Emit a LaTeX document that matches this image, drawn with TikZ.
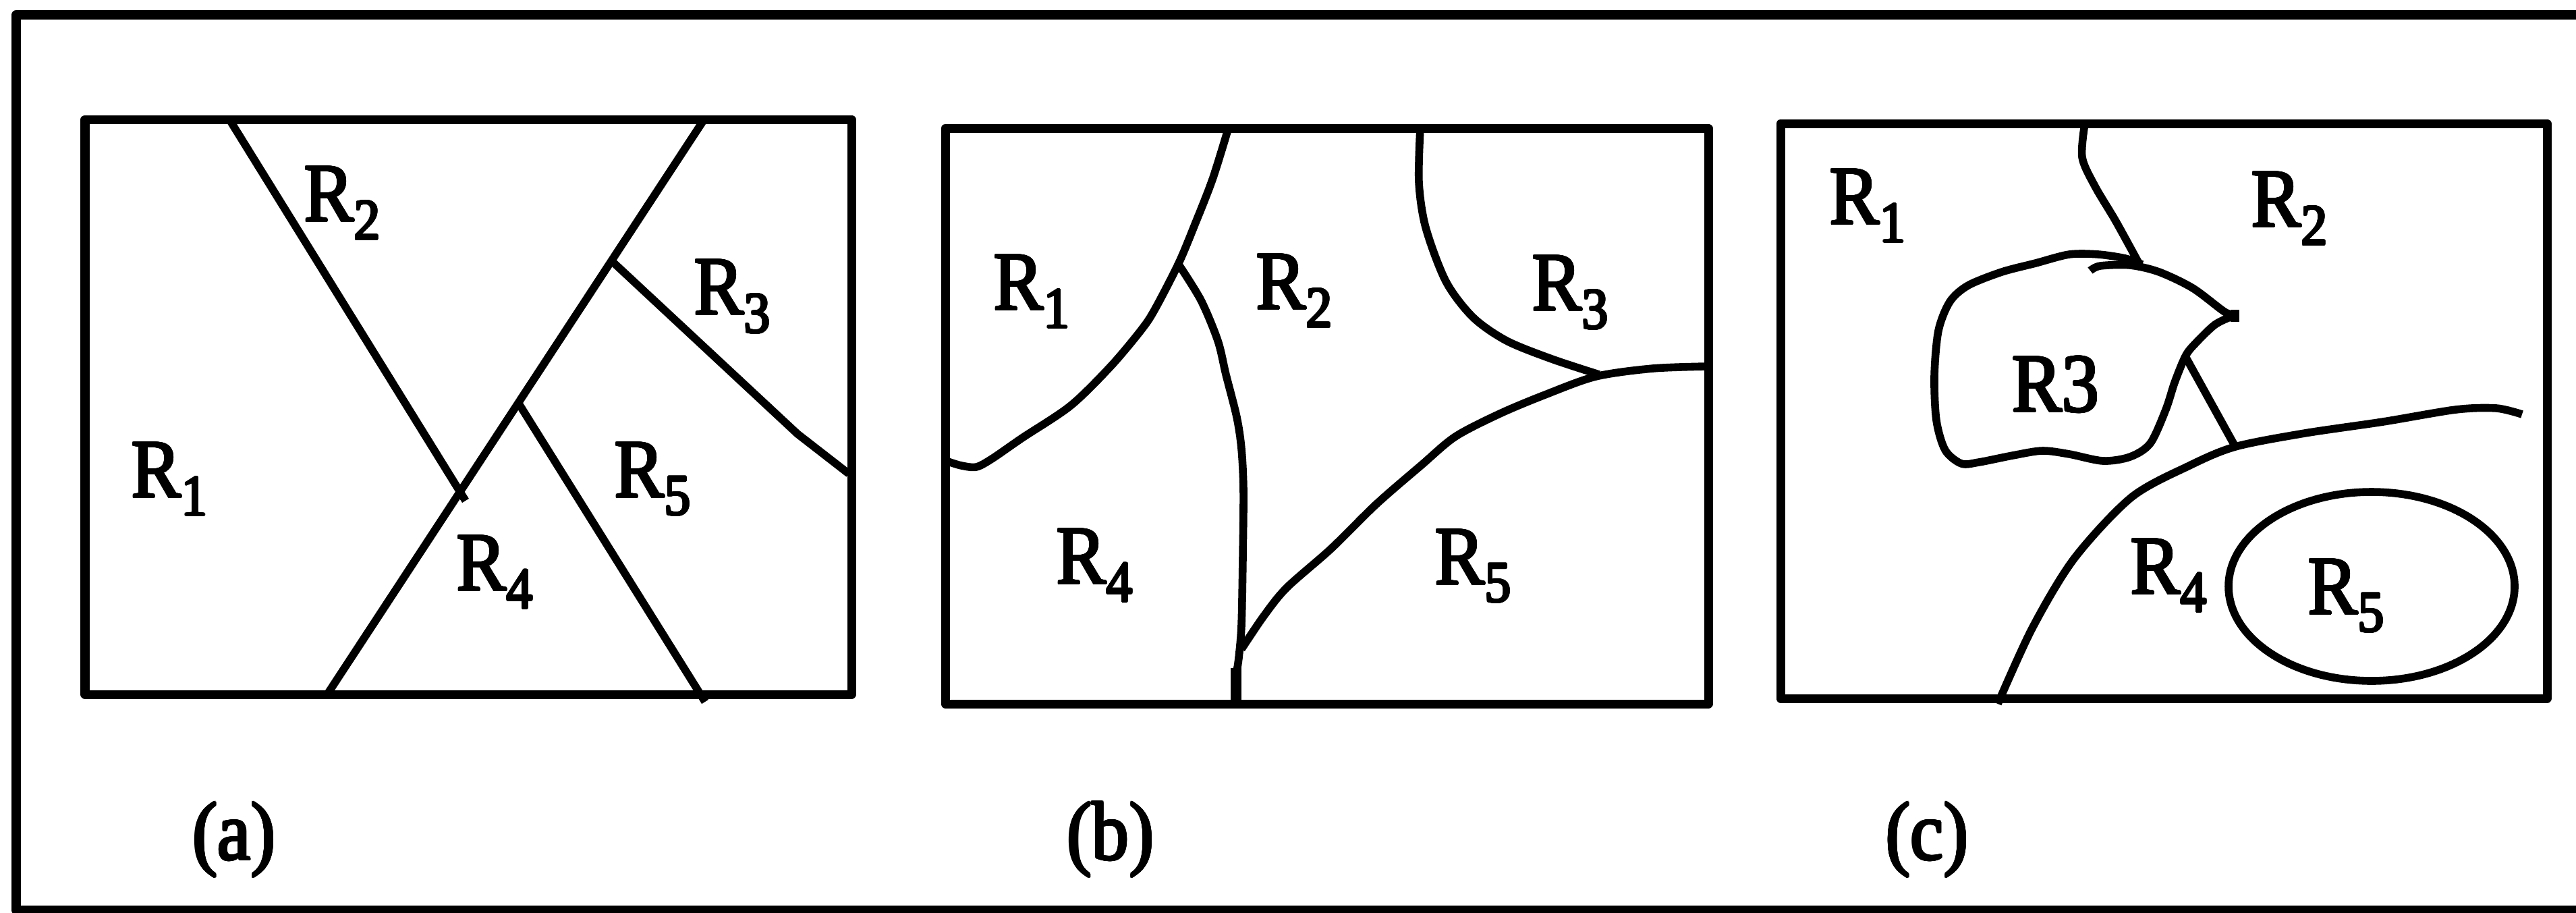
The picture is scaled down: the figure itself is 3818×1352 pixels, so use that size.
\documentclass[tikz,border=0pt]{standalone}
\usepackage{fontspec}
\usepackage[copies]{contour}
\contourlength{0.45pt}
\contournumber{16}
\newfontfamily\lblf{Liberation Serif}[FakeStretch=0.9]
\newcommand{\lt}[1]{\contour{black}{#1}}
\begin{document}
\begin{tikzpicture}[x=0.1mm,y=-0.1mm,line join=round,
  frame/.style={line width=3.9pt},
  box/.style={line width=3.7pt},
  bnd/.style={line width=3.3pt},
  lbl/.style={font=\lblf\fontsize{35}{42}\selectfont,inner sep=0pt,anchor=base}]
\useasboundingbox (0,0) rectangle (3818,1352);
\clip (0,0) rectangle (3818,1352);
% outer frame (open on the right)
\draw[frame] (3840,22) -- (24,22) -- (24,1349) -- (3840,1349);

% ---------- panel (a) ----------
\draw[box] (126,177) rectangle (1262,1029);
\coordinate (a1) at (340,177);
\coordinate (a2) at (690,742);
\coordinate (a3) at (1041,181);
\coordinate (a4) at (485,1029);
\coordinate (a5) at (908,388);
\coordinate (a6) at (1182,643);
\coordinate (a7) at (1258,702);
\coordinate (a8) at (767,595);
\coordinate (a9) at (1045,1040);
\draw[bnd] (a1) -- (a2);
\draw[bnd] (a3) -- (a4);
\draw[bnd] (a5) -- (a6) -- (a7);
\draw[bnd] (a8) -- (a9);
\node[lbl] (aR1) at (252,737) {\lt{R\textsubscript{1}}};
\node[lbl] (aR2) at (508,328) {\lt{R\textsubscript{2}}};
\node[lbl] (aR3) at (1086,466) {\lt{R\textsubscript{3}}};
\node[lbl] (aR4) at (734,875) {\lt{R\textsubscript{4}}};
\node[lbl] (aR5) at (968,737) {\lt{R\textsubscript{5}}};
\node[lbl] (acap) at (347,1274) {\lt{(a)}};

% ---------- panel (b) ----------
\draw[box] (1401,190) rectangle (2532,1043);
\draw[bnd] plot[smooth] coordinates {(1820,192) (1797,266) (1770,335) (1747,390) (1713,456) (1693,487) (1647,542) (1587,601) (1515,649) (1470,680) (1447,692) (1425,690) (1405,684)};
\draw[bnd] plot[smooth] coordinates {(1747,392) (1780,445) (1805,505) (1817,555) (1833,618) (1840,665) (1843,727) (1842,827) (1840,927) (1836,975) (1832,1005) (1832,1043)};
\draw[line width=4.4pt] (1832,990) -- (1832,1043);
\draw[bnd] plot[smooth] coordinates {(1840,962) (1873,913) (1907,871) (1973,813) (2040,747) (2107,689) (2157,647) (2223,613) (2290,585) (2365,558) (2450,546) (2532,543)};
\draw[bnd] plot[smooth] coordinates {(2105,190) (2103,270) (2113,337) (2143,417) (2183,470) (2233,505) (2300,532) (2370,555)};
\node[lbl] (bR1) at (1530,459) {\lt{R\textsubscript{1}}};
\node[lbl] (bR2) at (1919,458) {\lt{R\textsubscript{2}}};
\node[lbl] (bR3) at (2328,460) {\lt{R\textsubscript{3}}};
\node[lbl] (bR4) at (1623,865) {\lt{R\textsubscript{4}}};
\node[lbl] (bR5) at (2184,866) {\lt{R\textsubscript{5}}};
\node[lbl] (bcap) at (1646,1274) {\lt{(b)}};

% ---------- panel (c) ----------
\draw[box] (2639,183) rectangle (3775,1035);
\draw[bnd] plot[smooth] coordinates {(3090,183) (3086,233) (3105,276) (3136,328) (3170,390)};
\draw[bnd] plot[smooth] coordinates {(3098,401) (3113,394) (3157,393) (3200,403) (3250,427) (3297,462) (3313,467)};
\draw[bnd] plot[smooth] coordinates {(3313,467) (3283,481) (3250,513) (3238,530) (3223,567) (3210,607) (3187,657) (3157,677) (3117,683) (3067,673) (3027,668) (2983,675) (2933,685) (2907,687) (2883,667) (2870,623) (2867,557) (2873,490) (2890,447) (2917,423) (2967,403) (3017,390) (3067,377) (3110,377) (3150,383) (3175,392)};
\fill (3306,459) rectangle (3319,477);
\coordinate (c1) at (3240,530);
\coordinate (c2) at (3313,662);
\draw[bnd] (c1) -- (c2);
\draw[bnd] plot[smooth] coordinates {(2961,1043) (3012,931) (3074,828) (3159,737) (3245,690) (3313,662) (3416,642) (3532,625) (3640,607) (3700,605) (3738,614)};
\draw[bnd] (3515,869) ellipse [x radius=21.2mm, y radius=14mm];
\node[lbl] (cR1) at (2769,332) {\lt{R\textsubscript{1}}};
\node[lbl] (cR2) at (3394,336) {\lt{R\textsubscript{2}}};
\node[lbl] (cR3) at (3047,610) {\lt{R3}};
\node[lbl] (cR4) at (3215,880) {\lt{R\textsubscript{4}}};
\node[lbl] (cR5) at (3478,910) {\lt{R\textsubscript{5}}};
\node[lbl] (ccap) at (2856,1274) {\lt{(c)}};
\end{tikzpicture}
\end{document}
